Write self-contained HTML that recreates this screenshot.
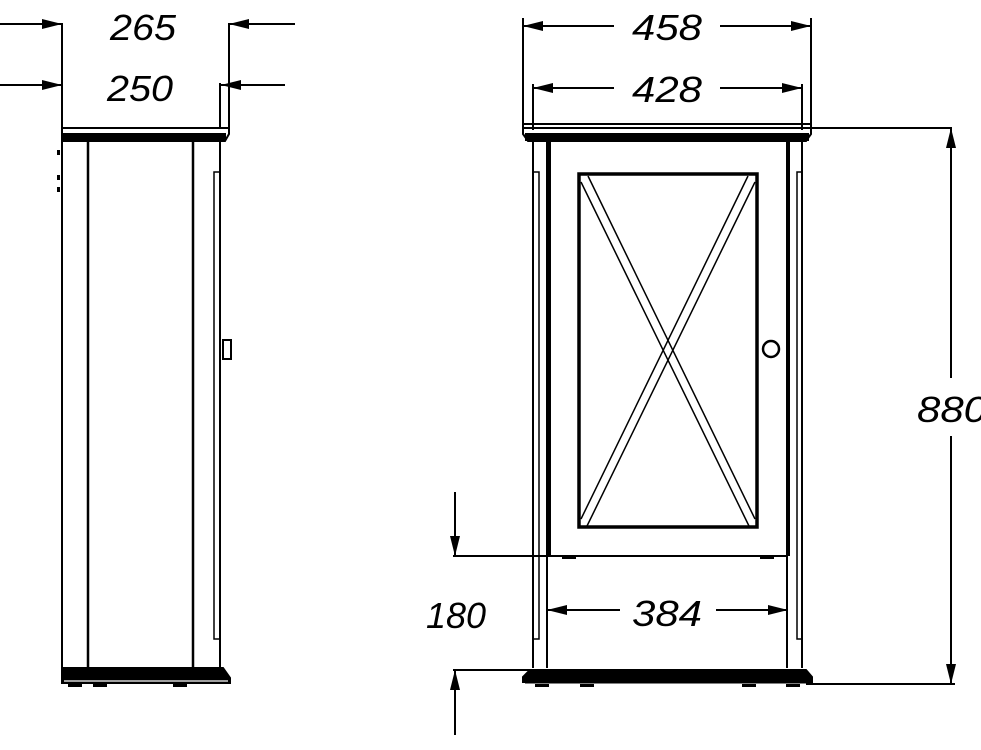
<!DOCTYPE html>
<html><head><meta charset="utf-8"><style>
html,body{margin:0;padding:0;background:#fff;}
svg{display:block}
text{font-family:"Liberation Sans",sans-serif;font-style:italic;font-size:36px;fill:#000}
</style></head><body>
<svg width="981" height="750" viewBox="0 0 981 750" xmlns="http://www.w3.org/2000/svg">
<defs>
<marker id="a" viewBox="0 0 20 10" refX="20" refY="5" markerWidth="20" markerHeight="10" markerUnits="userSpaceOnUse" orient="auto"><path d="M0,0 L20,5 L0,10 Z" fill="#000"/></marker>
</defs>
<g stroke="#000" fill="none" stroke-width="2">
<!-- LEFT CABINET -->
<!-- dims -->
<line x1="0" y1="24" x2="62" y2="24" marker-end="url(#a)"/>
<line x1="295" y1="24" x2="229" y2="24" marker-end="url(#a)"/>
<line x1="0" y1="85" x2="62" y2="85" marker-end="url(#a)"/>
<line x1="285" y1="85" x2="221" y2="85" marker-end="url(#a)"/>
<line x1="62" y1="23" x2="62" y2="128"/>
<line x1="229" y1="23" x2="229" y2="130"/>
<line x1="220" y1="83" x2="220" y2="128"/>
<!-- top -->
<path d="M62,128 L229,128 L229,134 L225,141 L62,141 Z"/>
<rect x="62" y="133" width="164" height="8" fill="#000" stroke="none"/>
<!-- body -->
<line x1="62" y1="141" x2="62" y2="668"/>
<line x1="88" y1="141" x2="88" y2="668" stroke-width="2.5"/>
<line x1="193" y1="141" x2="193" y2="668" stroke-width="2.5"/>
<line x1="220" y1="141" x2="220" y2="668"/>
<path d="M220,172 L214,172 L214,639 L220,639" stroke-width="1.5"/>
<rect x="223" y="340" width="8" height="19" stroke-width="2"/>
<rect x="57" y="150" width="3" height="5" fill="#000" stroke="none"/>
<rect x="57" y="175" width="3" height="5" fill="#000" stroke="none"/>
<rect x="57" y="187" width="3" height="5" fill="#000" stroke="none"/>
<!-- bottom -->
<path d="M62,668 L223,668 L230,678 L230,683 L62,683 Z" fill="#000"/>
<line x1="64" y1="681" x2="228" y2="681" stroke="#fff" stroke-width="1.2"/>
<rect x="68" y="684" width="14" height="3" fill="#000" stroke="none"/>
<rect x="93" y="684" width="14" height="3" fill="#000" stroke="none"/>
<rect x="173" y="684" width="14" height="3" fill="#000" stroke="none"/>

<!-- RIGHT CABINET -->
<line x1="523" y1="18" x2="523" y2="128"/>
<line x1="811" y1="18" x2="811" y2="128"/>
<line x1="533" y1="84" x2="533" y2="130"/>
<line x1="802" y1="84" x2="802" y2="130"/>
<line x1="614" y1="26" x2="523" y2="26" marker-end="url(#a)"/>
<line x1="720" y1="26" x2="811" y2="26" marker-end="url(#a)"/>
<line x1="614" y1="88" x2="533" y2="88" marker-end="url(#a)"/>
<line x1="720" y1="88" x2="802" y2="88" marker-end="url(#a)"/>
<!-- top -->
<path d="M523,124 L811,124 L811,134 L806,141 L528,141 L523,134 Z"/>
<line x1="523" y1="128" x2="952" y2="128"/>
<rect x="525" y="133" width="284" height="8" fill="#000" stroke="none"/>
<!-- sides -->
<line x1="533" y1="141" x2="533" y2="668"/>
<line x1="547" y1="141" x2="547" y2="668"/>
<line x1="549" y1="141" x2="549" y2="556" stroke-width="4"/>
<line x1="788" y1="141" x2="788" y2="556" stroke-width="4"/>
<line x1="787" y1="556" x2="787" y2="668"/>
<line x1="802" y1="141" x2="802" y2="668"/>
<path d="M533,172 L539,172 L539,639 L533,639" stroke-width="1.5"/>
<path d="M802,172 L797,172 L797,639 L802,639" stroke-width="1.5"/>
<!-- panel -->
<rect x="579" y="174" width="178" height="353" stroke-width="3.5"/>
<g stroke-width="1.5">
<line x1="581" y1="182" x2="749" y2="526"/>
<line x1="588" y1="176" x2="755" y2="519"/>
<line x1="755" y1="182" x2="587" y2="526"/>
<line x1="748" y1="176" x2="581" y2="519"/>
</g>
<circle cx="771" cy="349" r="8" stroke-width="2.5"/>
<!-- 180 dim -->
<line x1="453" y1="556" x2="788" y2="556"/>
<rect x="562" y="556" width="14" height="3" fill="#000" stroke="none"/>
<rect x="760" y="556" width="14" height="3" fill="#000" stroke="none"/>
<line x1="455" y1="492" x2="455" y2="556" marker-end="url(#a)"/>
<line x1="453" y1="670" x2="530" y2="670"/>
<line x1="455" y1="735" x2="455" y2="670" marker-end="url(#a)"/>
<!-- 384 -->
<line x1="620" y1="610" x2="547" y2="610" marker-end="url(#a)"/>
<line x1="716" y1="610" x2="788" y2="610" marker-end="url(#a)"/>
<!-- bottom -->
<path d="M530,670 L806,670 L812,677 L812,682 L523,682 L523,677 Z" fill="#000"/>
<line x1="525" y1="683" x2="810" y2="683" stroke-width="1"/>
<line x1="806" y1="684" x2="955" y2="684"/>
<rect x="535" y="684" width="14" height="3" fill="#000" stroke="none"/>
<rect x="580" y="684" width="14" height="3" fill="#000" stroke="none"/>
<rect x="742" y="684" width="14" height="3" fill="#000" stroke="none"/>
<rect x="786" y="684" width="14" height="3" fill="#000" stroke="none"/>
<!-- 880 -->
<line x1="951" y1="378" x2="951" y2="128" marker-end="url(#a)"/>
<line x1="951" y1="436" x2="951" y2="684" marker-end="url(#a)"/>
</g>
<text x="110" y="40" textLength="66" lengthAdjust="spacingAndGlyphs">265</text>
<text x="107" y="101" textLength="66" lengthAdjust="spacingAndGlyphs">250</text>
<text x="632" y="40" textLength="70" lengthAdjust="spacingAndGlyphs">458</text>
<text x="632" y="102" textLength="70" lengthAdjust="spacingAndGlyphs">428</text>
<text x="632" y="626" textLength="70" lengthAdjust="spacingAndGlyphs">384</text>
<text x="426" y="628" textLength="60" lengthAdjust="spacingAndGlyphs">180</text>
<text x="917" y="422" textLength="70" lengthAdjust="spacingAndGlyphs">880</text>
</svg>
</body></html>
